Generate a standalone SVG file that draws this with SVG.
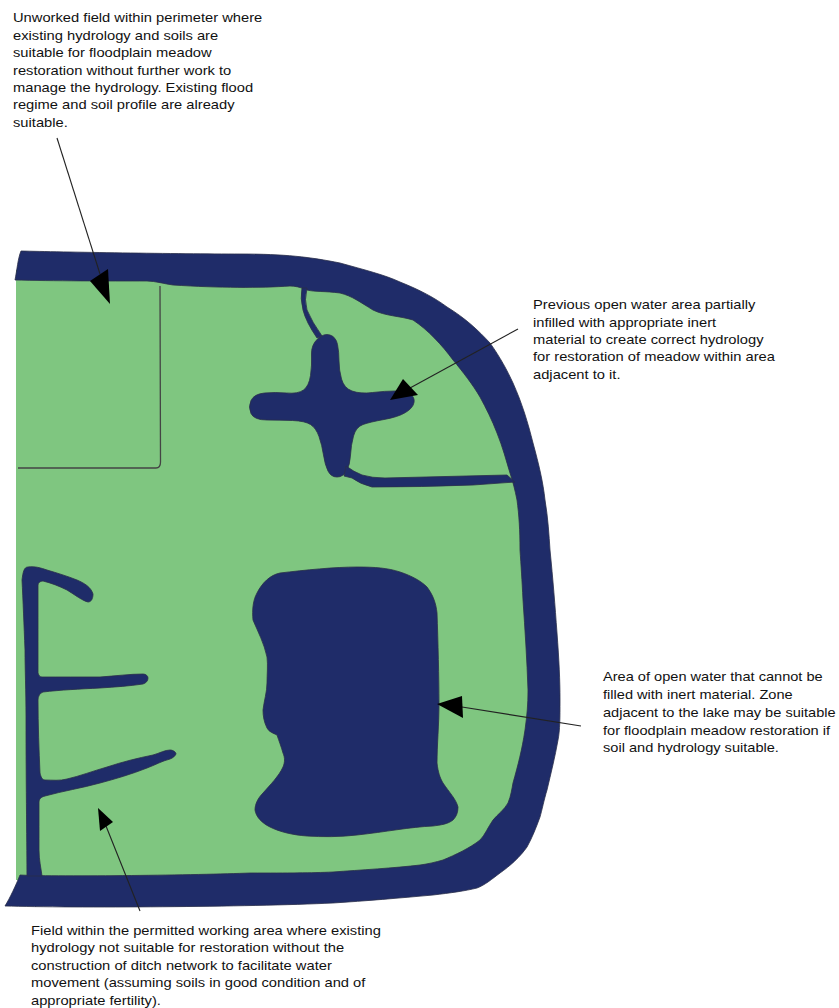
<svg xmlns="http://www.w3.org/2000/svg" width="839" height="1008" viewBox="0 0 839 1008">
<style>
.w{fill:#1f2c69;stroke:#2a2f4a;stroke-width:.8;stroke-linejoin:round}
.t{font-family:"Liberation Sans",Arial,sans-serif;font-size:13.2px;fill:#111}
.l{fill:none;stroke:#222;stroke-width:1.1}
.h{fill:#000}
</style>
<rect width="839" height="1008" fill="#fff"/>
<g id="field"><path fill="#7fc680" d="M16 270L16 880L320 885L480 875L545 740L540 600L515 430L450 320L340 275L150 270Z"/>
<path d="M160 286L160.500 462Q160.500 468 156 468L18 468" fill="none" stroke="#444" stroke-width="1.300"/></g>
<g id="perimeter"><path class="w" d="M21 251C60 252 180 254 240 254C285 254 310 257 340 263C365 270 385 275 400 282C420 290 435 298 447 307C465 318 478 330 490 343C500 357 507 370 513 383C522 403 528 423 533 443C539 465 543 482 545 500C548 518 549 535 550 550C553 580 555 605 557 633C559 660 560 680 560 700C560 718 560 730 558 740C555 757 551 773 547 790C544 800 542 810 540 817C536 828 532 838 527 847C520 857 510 866 500 873C492 879 485 885 477 888C465 891 450 893 433 895C400 898 365 901 333 903C250 907 70 908 5 906C10 898 16 885 20 875C60 877 200 875 250 873C290 873 310 873 333 872C360 870 395 868 420 865C428 864 436 862 443 860C455 855 470 848 480 840C485 835 488 827 493 820C498 814 504 810 508 803C511 796 512 788 513 783C518 765 522 750 525 730C527 715 528 705 528 690C527 660 525 630 523 600C522 580 521 565 520 550C520 530 519 515 517 500C515 490 513 482 510 473C506 460 503 448 497 433C492 420 486 408 480 397C473 385 463 372 453 360C442 345 428 330 413 320C400 316 385 316 373 310C360 302 352 296 340 293C325 291 315 292 307 290C300 287 295 286 290 286C260 288 220 288 173 285C165 284 155 281 147 281C110 281 50 281 15 280C17 270 18 258 21 251Z"/></g>
<g id="pond"><path class="w" d="M330 335Q336 337 337.500 344.500Q339 352 339 361Q339 370 341.500 379Q344 388 352 391Q360 394 372.500 392.500Q385 391 395 391Q405 391 410 394Q415 397 414 402.500Q413 408 405.500 412.500Q398 417 384 419.500Q370 422 363 424.500Q356 427 353.500 436Q351 445 350.500 455Q350 465 346.500 471Q343 477 337 477Q331 477 328 471Q325 465 323.500 455Q322 445 319 436.500Q316 428 310.500 424.500Q305 421 292.500 420.500Q280 420 267 420Q254 420 251 413.500Q248 407 251 400.500Q254 394 264.500 393Q275 392 286.500 393Q298 394 303.500 390Q309 386 310.500 375.500Q312 365 311.500 355Q311 345 317.500 339Q324 333 330 335Z"/>
<path class="w" d="M302 288L307 288Q304 300 307 310Q312 322 322 336L317 338Q306 322 303 310Q300 298 302 288Z"/>
<path class="w" d="M346 466Q354 472 362 475Q372 478 385 478L507 475L515 482L473 485Q420 487 372 487Q360 484 352 478L344 476Z"/></g>
<g id="lake"><path class="w" d="M280 573C305 570 335 567 357 567C375 567 388 568 400 572C412 576 421 581 427 587C433 595 436 603 437 613C438 640 439 680 439 703C439 725 437 745 437 763C438 772 440 778 443 783C449 792 456 799 458 807C458 813 456 817 453 820C448 824 441 825 433 826C410 827 385 832 357 835C340 837 322 837 307 836C293 835 280 832 270 827C262 823 256 817 255 810C255 804 258 798 263 793C270 785 279 776 283 767C285 762 285 758 283 753C281 746 279 741 277 735C273 733 269 732 267 728C264 722 263 716 263 710C264 701 267 692 267 683C267 675 268 665 267 657C264 643 258 632 253 620C252 610 253 600 257 593C262 583 270 575 280 573Z"/></g>
<g id="ditches"><path class="w" d="M27 876C27 850 26 790 26 717C26 690 25 670 25 650C24 625 23 600 22 580C23 572 24 567 28 567C35 566 41 568 47 570C57 573 67 576 77 580C84 583 91 587 93 594C93 599 91 602 88 602C83 601 75 595 67 590C59 586 51 583 43 581C40 581 38 583 38 585C38 610 38 650 38 673C39 676 40 677 42 677C60 677 80 677 100 677C115 676 130 674 143 674C146 674 148 676 148 678C148 681 146 683 143 684C130 686 115 687 100 688C80 689 60 690 43 692C40 693 38 696 38 700C38 725 39 750 40 773C41 777 42 780 45 780C52 780 60 781 67 779C80 776 93 771 107 767C122 762 138 758 153 755C160 753 165 750 170 750C173 750 176 752 176 754C175 756 173 758 170 759C162 761 155 765 147 768C132 774 115 779 100 783C82 788 63 791 45 796C41 797 39 799 39 802C39 818 39 835 39 850C39 860 41 868 42 876Z"/></g>
<g id="connectors">
<path class="l" d="M57 138L100 274"/><path class="h" d="M90 281L108 269L110 304Z"/>
<path class="l" d="M518 329L410 388"/><path class="h" d="M403 379L418 395L390 400Z"/>
<path class="l" d="M581 726L462 707"/><path class="h" d="M437 704L462 696L463 718Z"/>
<path class="l" d="M140 911L106 826"/><path class="h" d="M98 808L113 822L100 831Z"/>
</g>
<g id="note-1" class="t" transform="translate(13 0) scale(1.115 1)"><text y="22">Unworked field within perimeter where</text><text y="40">existing hydrology and soils are</text><text y="57.500">suitable for floodplain meadow</text><text y="75">restoration without further work to</text><text y="92">manage the hydrology. Existing flood</text><text y="109.500">regime and soil profile are already</text><text y="127">suitable.</text></g>
<g id="note-2" class="t" transform="translate(533 0) scale(1.115 1)"><text y="309.500">Previous open water area partially</text><text y="327">infilled with appropriate inert</text><text y="344">material to create correct hydrology</text><text y="361.500">for restoration of meadow within area</text><text y="379">adjacent to it.</text></g>
<g id="note-3" class="t" transform="translate(603 0) scale(1.105 1)"><text y="681.500">Area of open water that cannot be</text><text y="699">filled with inert material. Zone</text><text y="717">adjacent to the lake may be suitable</text><text y="735">for floodplain meadow restoration if</text><text y="752.500">soil and hydrology suitable.</text></g>
<g id="note-4" class="t" transform="translate(31 0) scale(1.115 1)"><text y="935">Field within the permitted working area where existing</text><text y="952.500">hydrology not suitable for restoration without the</text><text y="970">construction of ditch network to facilitate water</text><text y="987.500">movement (assuming soils in good condition and of</text><text y="1005">appropriate fertility).</text></g>
</svg>
